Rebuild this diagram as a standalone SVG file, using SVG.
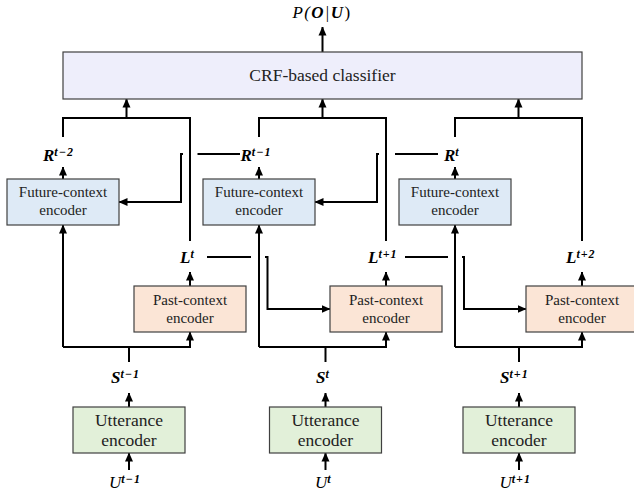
<svg xmlns="http://www.w3.org/2000/svg" width="634" height="494" viewBox="0 0 634 494">
<defs>
<marker id="ah" markerUnits="userSpaceOnUse" markerWidth="9" markerHeight="9" viewBox="0 0 9 9" refX="8.5" refY="4.5" orient="auto">
<path d="M0,0.5 L9,4.5 L0,8.5 z" fill="#000"/>
</marker>
<style>
.box{stroke:#404040;stroke-width:1.2}
.crf{fill:#EEEEFB}
.fut{fill:#DEEAF6}
.past{fill:#FBE5D6}
.utt{fill:#E2F0D9}
text{font-family:'Liberation Serif',Tinos,'Times New Roman','DejaVu Serif',serif}
.t15{font-size:15px;fill:#222;text-anchor:middle}
.t17{font-size:17.5px;fill:#222;text-anchor:middle}
.m{font-size:17px;font-style:italic;font-weight:bold;fill:#000}
.sup{font-size:12px}
.ln{fill:none;stroke:#000;stroke-width:2}
.ar{fill:none;stroke:#000;stroke-width:2;marker-end:url(#ah)}
</style>
</defs>
<rect width="634" height="494" fill="#fff"/>

<g id="connectors">
<path class="ar" d="M322.5,52 V27"/>
<path class="ln" d="M63,137 V118 H190 V241"/>
<path class="ar" d="M126.5,118 V99"/>
<path class="ln" d="M259,137 V118 H386 V241"/>
<path class="ar" d="M322.5,118 V99"/>
<path class="ln" d="M455,137 V118 H582 V241"/>
<path class="ar" d="M518.5,118 V99"/>
<path class="ar" d="M63,179 V167"/>
<path class="ar" d="M259,179 V167"/>
<path class="ar" d="M455,179 V167"/>
<path class="ln" d="M240,154 H197.5"/>
<path class="ar" d="M183,154 H181 V202 H119"/>
<path class="ln" d="M438,154 H395"/>
<path class="ar" d="M379,154 H377 V202 H315"/>
<path class="ar" d="M190,286 V272"/>
<path class="ar" d="M386,286 V272"/>
<path class="ar" d="M582,286 V272"/>
<path class="ln" d="M207,257 H251"/>
<path class="ar" d="M265,257 H267.5 V309 H330"/>
<path class="ln" d="M405,257 H448"/>
<path class="ar" d="M462,257 H464 V309 H526"/>
<path class="ar" d="M63,347 V225"/>
<path class="ar" d="M63,347 H190 V332"/>
<path class="ln" d="M129,362 V347"/>
<path class="ar" d="M259,347 V225"/>
<path class="ar" d="M259,347 H386 V332"/>
<path class="ln" d="M325.5,362 V347"/>
<path class="ar" d="M455,347 V225"/>
<path class="ar" d="M455,347 H582 V332"/>
<path class="ln" d="M519,362 V347"/>
<path class="ar" d="M129,407 V393"/>
<path class="ar" d="M325.5,407 V393"/>
<path class="ar" d="M519,407 V393"/>
<path class="ar" d="M129,470 V453"/>
<path class="ar" d="M325.5,470 V453"/>
<path class="ar" d="M519,470 V453"/>
</g>

<g id="crf">
<rect class="box crf" x="63" y="52" width="519" height="47"/>
<text class="t17" x="322.5" y="81">CRF-based classifier</text>
</g>

<g id="future1"><rect class="box fut" x="7" y="179" width="112" height="46"/><text class="t15" x="63" y="197">Future-context</text><text class="t15" x="63" y="215">encoder</text></g>
<g id="future2"><rect class="box fut" x="203" y="179" width="112" height="46"/><text class="t15" x="259" y="197">Future-context</text><text class="t15" x="259" y="215">encoder</text></g>
<g id="future3"><rect class="box fut" x="399" y="179" width="112" height="46"/><text class="t15" x="455" y="197">Future-context</text><text class="t15" x="455" y="215">encoder</text></g>

<g id="past1"><rect class="box past" x="134" y="286" width="112" height="46"/><text class="t15" x="190" y="305">Past-context</text><text class="t15" x="190" y="323">encoder</text></g>
<g id="past2"><rect class="box past" x="330" y="286" width="112" height="46"/><text class="t15" x="386" y="305">Past-context</text><text class="t15" x="386" y="323">encoder</text></g>
<g id="past3"><rect class="box past" x="526" y="286" width="112" height="46"/><text class="t15" x="582" y="305">Past-context</text><text class="t15" x="582" y="323">encoder</text></g>

<g id="utt1"><rect class="box utt" x="73" y="407" width="112" height="46"/><text class="t17" x="129" y="426">Utterance</text><text class="t17" x="129" y="446">encoder</text></g>
<g id="utt2"><rect class="box utt" x="269.5" y="407" width="112" height="46"/><text class="t17" x="325.5" y="426">Utterance</text><text class="t17" x="325.5" y="446">encoder</text></g>
<g id="utt3"><rect class="box utt" x="463" y="407" width="112" height="46"/><text class="t17" x="519" y="426">Utterance</text><text class="t17" x="519" y="446">encoder</text></g>

<g id="labels">
<text class="m" x="322" y="18" text-anchor="middle" font-size="18" letter-spacing="1.3"><tspan font-weight="normal">P(</tspan>O<tspan font-weight="normal">|</tspan>U<tspan font-weight="normal" font-style="normal">)</tspan></text>
<text class="m" x="43" y="161">R<tspan class="sup" dy="-5" letter-spacing="1">t−2</tspan></text>
<text class="m" x="240.5" y="161">R<tspan class="sup" dy="-5" letter-spacing="1">t−1</tspan></text>
<text class="m" x="444" y="161">R<tspan class="sup" dy="-5">t</tspan></text>
<text class="m" x="180" y="263">L<tspan class="sup" dy="-5">t</tspan></text>
<text class="m" x="368" y="263">L<tspan class="sup" dy="-5" letter-spacing="1">t+1</tspan></text>
<text class="m" x="566" y="263">L<tspan class="sup" dy="-5" letter-spacing="1">t+2</tspan></text>
<text class="m" x="111" y="383">S<tspan class="sup" dy="-5" letter-spacing="1">t−1</tspan></text>
<text class="m" x="316" y="383">S<tspan class="sup" dy="-5">t</tspan></text>
<text class="m" x="500" y="383">S<tspan class="sup" dy="-5" letter-spacing="1">t+1</tspan></text>
<text class="m" x="109" y="488"><tspan font-weight="normal">U</tspan><tspan class="sup" dy="-5" letter-spacing="1">t−1</tspan></text>
<text class="m" x="315" y="488"><tspan font-weight="normal">U</tspan><tspan class="sup" dy="-5">t</tspan></text>
<text class="m" x="499.5" y="488"><tspan font-weight="normal">U</tspan><tspan class="sup" dy="-5" letter-spacing="1">t+1</tspan></text>
</g>
</svg>
